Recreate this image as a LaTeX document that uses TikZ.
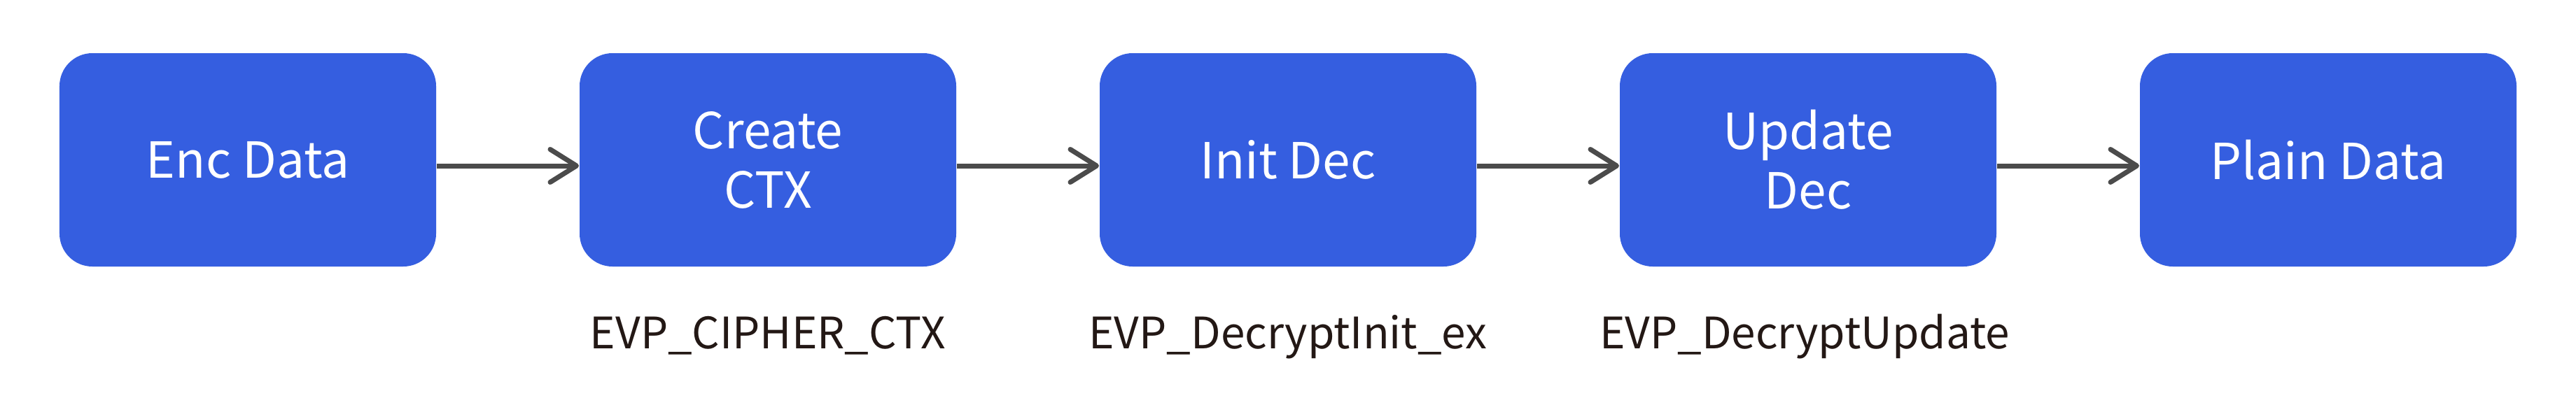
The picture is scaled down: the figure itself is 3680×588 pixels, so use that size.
\documentclass[tikz,border=0pt]{standalone}
\usepackage{fontspec}
\setmainfont{Noto Sans CJK SC}
\usepackage{tikz}
\usetikzlibrary{arrows.meta}

\definecolor{boxblue}{HTML}{355EE0}
\definecolor{arrowgray}{HTML}{4B4B4B}
\definecolor{labeltext}{HTML}{231815}

\tikzset{
  stage/.style={rectangle, rounded corners=9.4pt, fill=boxblue, text=white,
    minimum width=107.6pt, minimum height=61pt, align=center,
    font=\fontsize{14.2}{17}\selectfont},
  apiname/.style={anchor=base, text=labeltext, font=\fontsize{12.4}{15}\selectfont},
  flow/.style={->, draw=arrowgray, line width=1.4pt},
  >={Straight Barb[length=7.5pt, width=9.4pt, line cap=round, line join=round]}
}

\begin{document}
\begin{tikzpicture}[x=0.2pt, y=0.2pt]
    \useasboundingbox (0,0) rectangle (3680,-588);

    \node[stage] (enc) at (354,-228.5) {Enc Data};
    \node[stage] (ctx) at (1097,-228.5) {Create\\CTX};
    \node[stage] (init) at (1840,-228.5) {Init Dec};
    \node[stage] (update) at (2583,-228.5) {Update\\Dec};
    \node[stage] (plain) at (3326,-228.5) {Plain Data};

    \node[apiname] (ctxapi) at (1097,-498) {EVP\_CIPHER\_CTX};
    \node[apiname] (initapi) at (1840,-498) {EVP\_DecryptInit\_ex};
    \node[apiname] (updateapi) at (2578,-498) {EVP\_DecryptUpdate};

    \draw[flow] ([yshift=-1.7pt]enc.east) -- ([yshift=-1.7pt]ctx.west);
    \draw[flow] ([yshift=-1.7pt]ctx.east) -- ([yshift=-1.7pt]init.west);
    \draw[flow] ([yshift=-1.7pt]init.east) -- ([yshift=-1.7pt]update.west);
    \draw[flow] ([yshift=-1.7pt]update.east) -- ([yshift=-1.7pt]plain.west);
\end{tikzpicture}
\end{document}
